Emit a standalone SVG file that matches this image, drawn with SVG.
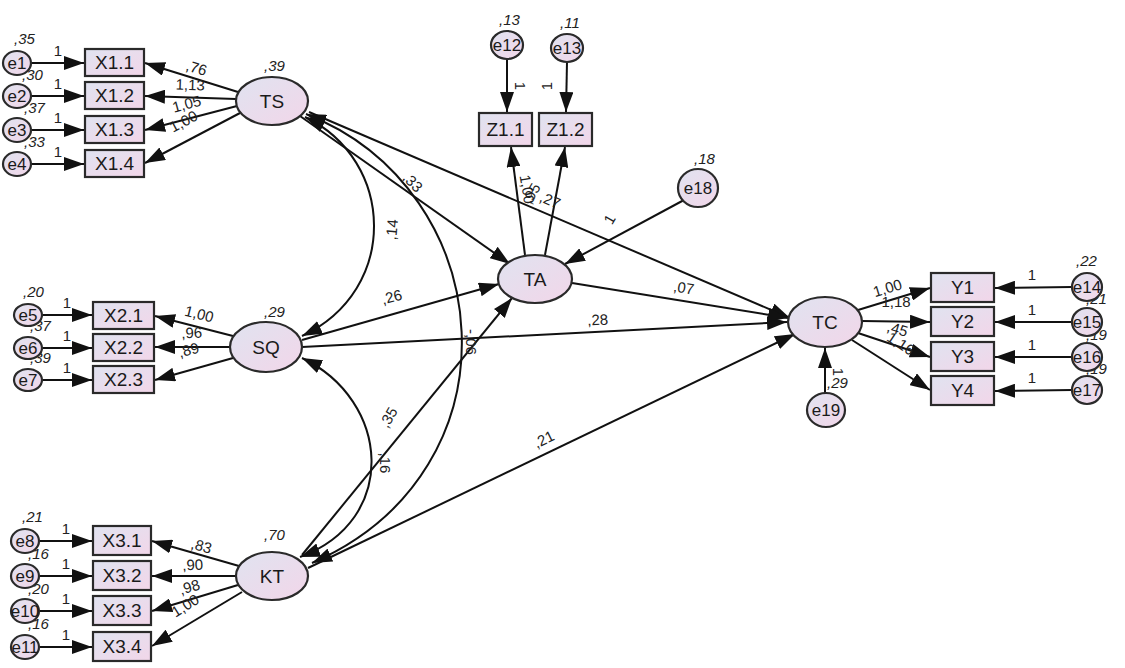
<svg xmlns="http://www.w3.org/2000/svg" width="1125" height="668" viewBox="0 0 1125 668">
<defs>
<linearGradient id="g" x1="0" y1="0" x2="1" y2="1">
<stop offset="0" stop-color="#e0e3f0"/>
<stop offset="1" stop-color="#f2d6e9"/>
</linearGradient>
<marker id="ah" markerUnits="userSpaceOnUse" markerWidth="21" markerHeight="14" refX="20" refY="7" orient="auto-start-reverse">
<path d="M0,0 L20,7 L0,14 z" fill="#111"/>
</marker>
</defs>
<style>
.n{fill:url(#g);stroke:#2a2a2a;stroke-width:2.2}
.t{font-family:"Liberation Sans",Arial,sans-serif;font-size:19px;fill:#1a1a1a;text-anchor:middle}
.te{font-family:"Liberation Sans",Arial,sans-serif;font-size:17px;fill:#1a1a1a;text-anchor:middle}
.l{font-family:"Liberation Sans",Arial,sans-serif;font-size:15px;fill:#222;text-anchor:middle}
.v{font-family:"Liberation Sans",Arial,sans-serif;font-size:15px;fill:#222;font-style:italic}
.c{fill:none;stroke:#111;stroke-width:2}
</style>
<rect width="1125" height="668" fill="#fff"/>

<g id="variance-labels">
<text class="v" x="14" y="44">,35</text>
<text class="v" x="22" y="80">,30</text>
<text class="v" x="24" y="113">,37</text>
<text class="v" x="24" y="147">,33</text>
<text class="v" x="23" y="297">,20</text>
<text class="v" x="30" y="331">,37</text>
<text class="v" x="30" y="363">,39</text>
<text class="v" x="22" y="522">,21</text>
<text class="v" x="28" y="559">,16</text>
<text class="v" x="28" y="594">,20</text>
<text class="v" x="28" y="629">,16</text>
<text class="v" x="1076" y="266">,22</text>
<text class="v" x="1086" y="304">,21</text>
<text class="v" x="1086" y="340">,19</text>
<text class="v" x="1086" y="374">,19</text>
<text class="v" x="264" y="71">,39</text>
<text class="v" x="264" y="317">,29</text>
<text class="v" x="264" y="540">,70</text>
<text class="v" x="499" y="25">,13</text>
<text class="v" x="560" y="28">,11</text>
<text class="v" x="694" y="164">,18</text>
<text class="v" x="827" y="388">,29</text>
</g>

<g id="connectors">
<line class="c" x1="31" y1="63" x2="84" y2="63" marker-end="url(#ah)"/>
<line class="c" x1="31" y1="96" x2="84" y2="96" marker-end="url(#ah)"/>
<line class="c" x1="31" y1="130" x2="84" y2="130" marker-end="url(#ah)"/>
<line class="c" x1="31" y1="164" x2="84" y2="164" marker-end="url(#ah)"/>
<line class="c" x1="42" y1="315" x2="92" y2="315" marker-end="url(#ah)"/>
<line class="c" x1="42" y1="348" x2="92" y2="348" marker-end="url(#ah)"/>
<line class="c" x1="42" y1="380" x2="92" y2="380" marker-end="url(#ah)"/>
<line class="c" x1="39" y1="541" x2="92" y2="541" marker-end="url(#ah)"/>
<line class="c" x1="39" y1="576" x2="92" y2="576" marker-end="url(#ah)"/>
<line class="c" x1="39" y1="611" x2="92" y2="611" marker-end="url(#ah)"/>
<line class="c" x1="39" y1="647" x2="92" y2="647" marker-end="url(#ah)"/>
<line class="c" x1="507" y1="59" x2="507" y2="112" marker-end="url(#ah)"/>
<line class="c" x1="567" y1="62" x2="566" y2="112" marker-end="url(#ah)"/>
<line class="c" x1="1072" y1="287" x2="995" y2="288" marker-end="url(#ah)"/>
<line class="c" x1="1072" y1="322" x2="995" y2="322" marker-end="url(#ah)"/>
<line class="c" x1="1072" y1="357" x2="995" y2="357" marker-end="url(#ah)"/>
<line class="c" x1="1072" y1="390" x2="995" y2="391" marker-end="url(#ah)"/>
<line class="c" x1="684" y1="200" x2="565" y2="264" marker-end="url(#ah)"/>
<line class="c" x1="825" y1="393" x2="825" y2="348" marker-end="url(#ah)"/>
<line class="c" x1="238" y1="92" x2="145" y2="63" marker-end="url(#ah)"/>
<line class="c" x1="236" y1="99" x2="145" y2="96" marker-end="url(#ah)"/>
<line class="c" x1="237" y1="106" x2="145" y2="130" marker-end="url(#ah)"/>
<line class="c" x1="240" y1="113" x2="145" y2="163" marker-end="url(#ah)"/>
<line class="c" x1="233" y1="336" x2="155" y2="316" marker-end="url(#ah)"/>
<line class="c" x1="230" y1="347" x2="155" y2="347" marker-end="url(#ah)"/>
<line class="c" x1="233" y1="358" x2="155" y2="380" marker-end="url(#ah)"/>
<line class="c" x1="239" y1="566" x2="152" y2="541" marker-end="url(#ah)"/>
<line class="c" x1="236" y1="576" x2="152" y2="576" marker-end="url(#ah)"/>
<line class="c" x1="238" y1="585" x2="152" y2="611" marker-end="url(#ah)"/>
<line class="c" x1="242" y1="592" x2="152" y2="646" marker-end="url(#ah)"/>
<line class="c" x1="525" y1="255" x2="511" y2="147" marker-end="url(#ah)"/>
<line class="c" x1="545" y1="255" x2="565" y2="147" marker-end="url(#ah)"/>
<line class="c" x1="858" y1="310" x2="930" y2="288" marker-end="url(#ah)"/>
<line class="c" x1="862" y1="321" x2="930" y2="322" marker-end="url(#ah)"/>
<line class="c" x1="858" y1="333" x2="930" y2="357" marker-end="url(#ah)"/>
<line class="c" x1="852" y1="340" x2="930" y2="390" marker-end="url(#ah)"/>
<line class="c" x1="300" y1="116" x2="510" y2="264" marker-end="url(#ah)"/>
<line class="c" x1="309" y1="112" x2="790" y2="318" marker-end="url(#ah)"/>
<line class="c" x1="302" y1="340" x2="499" y2="284" marker-end="url(#ah)"/>
<line class="c" x1="302" y1="347" x2="787" y2="322" marker-end="url(#ah)"/>
<line class="c" x1="302" y1="555" x2="512" y2="298" marker-end="url(#ah)"/>
<line class="c" x1="308" y1="568" x2="795" y2="334" marker-end="url(#ah)"/>
<line class="c" x1="572" y1="283" x2="788" y2="318" marker-end="url(#ah)"/>
<path class="c" d="M305,117 C395,160 400,290 302,336" marker-start="url(#ah)" marker-end="url(#ah)"/>
<path class="c" d="M306,114 C500,190 525,470 312,563" marker-start="url(#ah)" marker-end="url(#ah)"/>
<path class="c" d="M302,358 C390,400 400,520 300,557" marker-start="url(#ah)" marker-end="url(#ah)"/>
</g>

<g id="edge-labels">
<text class="l" x="58" y="56">1</text>
<text class="l" x="58" y="89">1</text>
<text class="l" x="58" y="123">1</text>
<text class="l" x="58" y="157">1</text>
<text class="l" x="67" y="308">1</text>
<text class="l" x="67" y="341">1</text>
<text class="l" x="67" y="373">1</text>
<text class="l" x="66" y="534">1</text>
<text class="l" x="66" y="569">1</text>
<text class="l" x="66" y="604">1</text>
<text class="l" x="66" y="640">1</text>
<text class="l" transform="translate(515,86) rotate(90)">1</text>
<text class="l" transform="translate(552,86) rotate(-90)">1</text>
<text class="l" x="1032" y="280">1</text>
<text class="l" x="1032" y="315">1</text>
<text class="l" x="1032" y="350">1</text>
<text class="l" x="1032" y="383">1</text>
<text class="l" transform="translate(614,222) rotate(-60)">1</text>
<text class="l" transform="translate(833,372) rotate(90)">1</text>
<text class="l" transform="translate(195,73) rotate(17)">,76</text>
<text class="l" transform="translate(190,90) rotate(2)">1,13</text>
<text class="l" transform="translate(188,109) rotate(-15)">1,05</text>
<text class="l" transform="translate(186,126) rotate(-28)">1,00</text>
<text class="l" transform="translate(198,319) rotate(14)">1,00</text>
<text class="l" transform="translate(192,338) rotate(-3)">,96</text>
<text class="l" transform="translate(190,355) rotate(-15)">,89</text>
<text class="l" transform="translate(200,551) rotate(16)">,83</text>
<text class="l" transform="translate(193,570) rotate(-3)">,90</text>
<text class="l" transform="translate(191,592) rotate(-17)">,98</text>
<text class="l" transform="translate(188,610) rotate(-32)">1,00</text>
<text class="l" transform="translate(889,293) rotate(-17)">1,00</text>
<text class="l" transform="translate(896,307) rotate(0)">1,18</text>
<text class="l" transform="translate(896,334) rotate(17)">,45</text>
<text class="l" transform="translate(898,348) rotate(33)">1,16</text>
<text class="l" transform="translate(409,186) rotate(45)">,33</text>
<text class="l" transform="translate(548,205) rotate(23)">,27</text>
<text class="l" transform="translate(522,190) rotate(80)">1,00</text>
<text class="l" transform="translate(536,196) rotate(-60)">,95</text>
<text class="l" transform="translate(393,302) rotate(-15)">,26</text>
<text class="l" transform="translate(598,325) rotate(-3)">,28</text>
<text class="l" transform="translate(683,293) rotate(9)">,07</text>
<text class="l" transform="translate(393,420) rotate(-60)">,35</text>
<text class="l" transform="translate(546,444) rotate(-26)">,21</text>
<text class="l" transform="translate(397,230) rotate(-85)">,14</text>
<text class="l" transform="translate(380,463) rotate(90)">,16</text>
<text class="l" transform="translate(466,342) rotate(90)">-,06</text>
</g>

<g id="e1"><ellipse class="n" cx="17" cy="63" rx="14" ry="12"/><text class="te" x="17" y="69">e1</text></g>
<g id="e2"><ellipse class="n" cx="17" cy="96" rx="14" ry="12"/><text class="te" x="17" y="102">e2</text></g>
<g id="e3"><ellipse class="n" cx="17" cy="130" rx="14" ry="12"/><text class="te" x="17" y="136">e3</text></g>
<g id="e4"><ellipse class="n" cx="17" cy="164" rx="14" ry="12"/><text class="te" x="17" y="170">e4</text></g>
<g id="e5"><ellipse class="n" cx="28" cy="315" rx="14" ry="11"/><text class="te" x="28" y="321">e5</text></g>
<g id="e6"><ellipse class="n" cx="28" cy="348" rx="14" ry="11"/><text class="te" x="28" y="354">e6</text></g>
<g id="e7"><ellipse class="n" cx="28" cy="380" rx="14" ry="11"/><text class="te" x="28" y="386">e7</text></g>
<g id="e8"><ellipse class="n" cx="25" cy="541" rx="14" ry="12"/><text class="te" x="25" y="547">e8</text></g>
<g id="e9"><ellipse class="n" cx="25" cy="576" rx="14" ry="12"/><text class="te" x="25" y="582">e9</text></g>
<g id="e10"><ellipse class="n" cx="25" cy="611" rx="14" ry="12"/><text class="te" x="25" y="617">e10</text></g>
<g id="e11"><ellipse class="n" cx="25" cy="647" rx="14" ry="12"/><text class="te" x="25" y="653">e11</text></g>
<g id="e12"><ellipse class="n" cx="507" cy="45" rx="16" ry="14"/><text class="te" x="507" y="51">e12</text></g>
<g id="e13"><ellipse class="n" cx="567" cy="48" rx="16" ry="14"/><text class="te" x="567" y="54">e13</text></g>
<g id="e14"><ellipse class="n" cx="1087" cy="287" rx="15" ry="14"/><text class="te" x="1087" y="293">e14</text></g>
<g id="e15"><ellipse class="n" cx="1087" cy="322" rx="15" ry="14"/><text class="te" x="1087" y="328">e15</text></g>
<g id="e16"><ellipse class="n" cx="1087" cy="357" rx="15" ry="14"/><text class="te" x="1087" y="363">e16</text></g>
<g id="e17"><ellipse class="n" cx="1087" cy="390" rx="15" ry="14"/><text class="te" x="1087" y="396">e17</text></g>
<g id="e18"><ellipse class="n" cx="698" cy="188" rx="20" ry="19"/><text class="te" x="698" y="194">e18</text></g>
<g id="e19"><ellipse class="n" cx="826" cy="410" rx="19" ry="17"/><text class="te" x="826" y="416">e19</text></g>

<g id="X1.1"><rect class="n" x="85" y="49" width="59" height="27"/><text class="t" x="114.5" y="69">X1.1</text></g>
<g id="X1.2"><rect class="n" x="85" y="82" width="59" height="27"/><text class="t" x="114.5" y="102">X1.2</text></g>
<g id="X1.3"><rect class="n" x="85" y="116" width="59" height="27"/><text class="t" x="114.5" y="136">X1.3</text></g>
<g id="X1.4"><rect class="n" x="85" y="150" width="59" height="27"/><text class="t" x="114.5" y="170">X1.4</text></g>
<g id="X2.1"><rect class="n" x="93" y="302" width="61" height="27"/><text class="t" x="123.5" y="322">X2.1</text></g>
<g id="X2.2"><rect class="n" x="93" y="334" width="61" height="27"/><text class="t" x="123.5" y="354">X2.2</text></g>
<g id="X2.3"><rect class="n" x="93" y="366" width="61" height="27"/><text class="t" x="123.5" y="386">X2.3</text></g>
<g id="X3.1"><rect class="n" x="93" y="526" width="58" height="29"/><text class="t" x="122" y="547">X3.1</text></g>
<g id="X3.2"><rect class="n" x="93" y="561" width="58" height="29"/><text class="t" x="122" y="582">X3.2</text></g>
<g id="X3.3"><rect class="n" x="93" y="596" width="58" height="29"/><text class="t" x="122" y="617">X3.3</text></g>
<g id="X3.4"><rect class="n" x="93" y="632" width="58" height="29"/><text class="t" x="122" y="653">X3.4</text></g>
<g id="Z1.1"><rect class="n" x="479" y="113" width="53" height="33"/><text class="t" x="505.5" y="136">Z1.1</text></g>
<g id="Z1.2"><rect class="n" x="539" y="113" width="53" height="33"/><text class="t" x="565.5" y="136">Z1.2</text></g>
<g id="Y1"><rect class="n" x="931" y="273" width="63" height="29"/><text class="t" x="962.5" y="294">Y1</text></g>
<g id="Y2"><rect class="n" x="931" y="307" width="63" height="29"/><text class="t" x="962.5" y="328">Y2</text></g>
<g id="Y3"><rect class="n" x="931" y="342" width="63" height="29"/><text class="t" x="962.5" y="363">Y3</text></g>
<g id="Y4"><rect class="n" x="931" y="376" width="63" height="29"/><text class="t" x="962.5" y="397">Y4</text></g>

<g id="TS"><ellipse class="n" cx="272" cy="101" rx="36" ry="24"/><text class="t" x="272" y="108">TS</text></g>
<g id="SQ"><ellipse class="n" cx="266" cy="347" rx="36" ry="25"/><text class="t" x="266" y="354">SQ</text></g>
<g id="KT"><ellipse class="n" cx="272" cy="576" rx="36" ry="24"/><text class="t" x="272" y="583">KT</text></g>
<g id="TA"><ellipse class="n" cx="535" cy="279" rx="37" ry="24"/><text class="t" x="535" y="286">TA</text></g>
<g id="TC"><ellipse class="n" cx="825" cy="322" rx="37" ry="25"/><text class="t" x="825" y="329">TC</text></g>
</svg>
